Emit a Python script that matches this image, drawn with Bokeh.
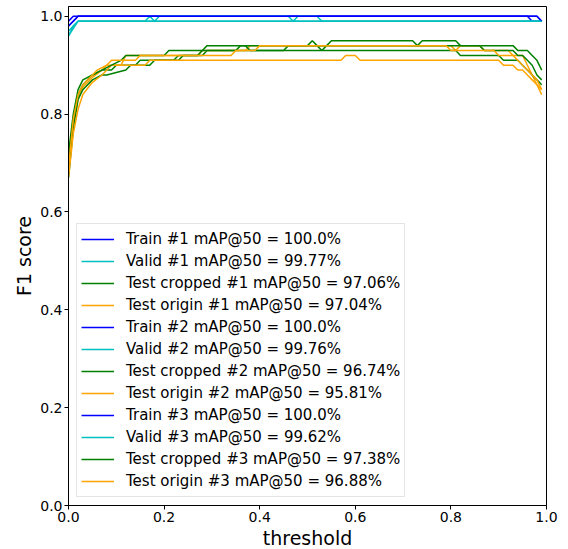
from bokeh.plotting import figure
from bokeh.models import Range1d, FixedTicker, PrintfTickFormatter
from bokeh.embed import file_html
from bokeh.resources import INLINE

# ---------------- data (vertices of each F1-vs-threshold curve) ----------------
train1_t = [0, 0.02, 0.96, 0.97, 0.99]
train1_f = [0.98, 1.0, 1.0, 0.99, 0.99]
valid1_t = [0, 0.02, 0.99]
valid1_f = [0.96, 0.99, 0.99]
crop1_t = [0, 0.01, 0.02, 0.03, 0.05, 0.07, 0.09, 0.10, 0.14, 0.15, 0.22, 0.23, 0.28, 0.29,
           0.45, 0.46, 0.50, 0.51, 0.52, 0.53, 0.54, 0.55, 0.72, 0.73, 0.74, 0.81, 0.82,
           0.93, 0.94, 0.96, 0.97, 0.98, 0.99]
crop1_f = [0.72, 0.80, 0.85, 0.87, 0.88, 0.89, 0.89, 0.90, 0.90, 0.91, 0.91, 0.92, 0.92, 0.93,
           0.93, 0.94, 0.94, 0.95, 0.94, 0.93, 0.94, 0.95, 0.95, 0.94, 0.95, 0.95, 0.94,
           0.94, 0.93, 0.93, 0.92, 0.91, 0.89]
orig1_t = [0, 0.01, 0.02, 0.03, 0.05, 0.07, 0.08, 0.11, 0.12, 0.27, 0.28, 0.37, 0.38, 0.80,
           0.81, 0.82, 0.86, 0.87, 0.92, 0.93, 0.95, 0.96, 0.97, 0.98, 0.99]
orig1_f = [0.68, 0.78, 0.83, 0.855, 0.875, 0.89, 0.90, 0.90, 0.92, 0.92, 0.93, 0.93, 0.94, 0.94,
           0.93, 0.94, 0.94, 0.93, 0.93, 0.92, 0.92, 0.90, 0.88, 0.86, 0.84]

train2_t = [0, 0.01, 0.98, 0.99]
train2_f = [0.99, 1.0, 1.0, 0.99]
valid2_t = [0, 0.01, 0.02, 0.16, 0.17, 0.18, 0.19, 0.46, 0.47, 0.48, 0.52, 0.53, 0.99]
valid2_f = [0.97, 0.98, 0.99, 0.99, 1.0, 0.99, 1.0, 1.0, 0.99, 1.0, 1.0, 0.99, 0.99]
crop2_t = [0, 0.01, 0.02, 0.03, 0.05, 0.07, 0.08, 0.12, 0.13, 0.17, 0.18, 0.23, 0.24, 0.27,
           0.28, 0.29, 0.37, 0.38, 0.81, 0.82, 0.90, 0.91, 0.94, 0.95, 0.96, 0.97, 0.98, 0.99]
crop2_f = [0.67, 0.77, 0.83, 0.85, 0.87, 0.88, 0.88, 0.89, 0.90, 0.90, 0.91, 0.91, 0.92, 0.92,
           0.93, 0.94, 0.94, 0.93, 0.93, 0.92, 0.92, 0.91, 0.91, 0.90, 0.89, 0.88, 0.87, 0.86]
orig2_t = [0, 0.01, 0.02, 0.03, 0.05, 0.07, 0.09, 0.16, 0.17, 0.57, 0.58, 0.60, 0.61, 0.90,
           0.91, 0.93, 0.94, 0.95, 0.96, 0.97, 0.98, 0.99]
orig2_f = [0.67, 0.76, 0.81, 0.84, 0.865, 0.88, 0.90, 0.90, 0.91, 0.91, 0.92, 0.92, 0.91, 0.91,
           0.90, 0.90, 0.89, 0.89, 0.88, 0.87, 0.86, 0.85]

train3_t = [0, 0.01, 0.02, 0.98, 0.99]
train3_f = [0.98, 0.99, 1.0, 1.0, 0.99]
valid3_t = [0, 0.01, 0.02, 0.99]
valid3_f = [0.96, 0.98, 0.99, 0.99]
crop3_t = [0, 0.01, 0.02, 0.03, 0.05, 0.07, 0.09, 0.11, 0.12, 0.20, 0.21, 0.35, 0.36, 0.86,
           0.87, 0.93, 0.94, 0.95, 0.96, 0.97, 0.98, 0.99]
crop3_f = [0.70, 0.79, 0.84, 0.86, 0.88, 0.89, 0.90, 0.91, 0.92, 0.92, 0.93, 0.93, 0.94, 0.94,
           0.93, 0.93, 0.92, 0.92, 0.91, 0.90, 0.88, 0.87]
orig3_t = [0, 0.01, 0.02, 0.03, 0.05, 0.06, 0.08, 0.09, 0.14, 0.15, 0.34, 0.35, 0.39, 0.40,
           0.79, 0.80, 0.89, 0.90, 0.93, 0.94, 0.95, 0.96, 0.97, 0.98, 0.99]
orig3_f = [0.69, 0.79, 0.84, 0.86, 0.88, 0.89, 0.90, 0.91, 0.91, 0.92, 0.92, 0.93, 0.93, 0.94,
           0.94, 0.93, 0.93, 0.92, 0.92, 0.91, 0.90, 0.89, 0.88, 0.87, 0.85]

labels = [
    "Train #1 mAP@50 = 100.0%", "Valid #1 mAP@50 = 99.77%",
    "Test cropped #1 mAP@50 = 97.06%", "Test origin #1 mAP@50 = 97.04%",
    "Train #2 mAP@50 = 100.0%", "Valid #2 mAP@50 = 99.76%",
    "Test cropped #2 mAP@50 = 96.74%", "Test origin #2 mAP@50 = 95.81%",
    "Train #3 mAP@50 = 100.0%", "Valid #3 mAP@50 = 99.62%",
    "Test cropped #3 mAP@50 = 97.38%", "Test origin #3 mAP@50 = 96.88%",
]
series = [
    (train1_t, train1_f), (valid1_t, valid1_f), (crop1_t, crop1_f), (orig1_t, orig1_f),
    (train2_t, train2_f), (valid2_t, valid2_f), (crop2_t, crop2_f), (orig2_t, orig2_f),
    (train3_t, train3_f), (valid3_t, valid3_f), (crop3_t, crop3_f), (orig3_t, orig3_f),
]
colors = ["#0000ff", "#00bfbf", "#008000", "#ffa500"] * 3

x_ticks = [0.0, 0.2, 0.4, 0.6, 0.8, 1.0]
y_ticks = [0.0, 0.2, 0.4, 0.6, 0.8, 1.0]

FONT = "DejaVu Sans"

p = figure(frame_width=478, frame_height=499, output_backend="svg", toolbar_location=None,
           x_range=Range1d(0, 1), y_range=Range1d(0, 1.02),
           min_border_left=68, min_border_right=20, min_border_top=6, min_border_bottom=10)

for (t, f), c, lab in zip(series, colors, labels):
    p.line(t, f, line_color=c, line_width=1.5, legend_label=lab)

p.xgrid.visible = False
p.ygrid.visible = False
p.outline_line_color = "black"
p.outline_line_width = 1
p.background_fill_color = "white"
p.border_fill_color = "white"

for ax, ticks in ((p.xaxis[0], x_ticks), (p.yaxis[0], y_ticks)):
    ax.ticker = FixedTicker(ticks=ticks)
    ax.formatter = PrintfTickFormatter(format="%.1f")
    ax.major_label_text_font = FONT
    ax.major_label_text_font_size = "14px"
    ax.major_label_text_color = "black"
    ax.axis_label_text_font = FONT
    ax.axis_label_text_font_size = "19px"
    ax.axis_label_text_font_style = "normal"
    ax.axis_label_text_color = "black"
    ax.major_tick_out = 4
    ax.major_tick_in = 0
    ax.minor_tick_out = 0
    ax.minor_tick_in = 0
    ax.axis_line_color = "black"
    ax.major_tick_line_color = "black"
    ax.major_label_standoff = 2
    ax.axis_label_standoff = 2

p.xaxis.axis_label = "threshold"
p.yaxis.axis_label = "F1 score"

lg = p.legend[0]
lg.location = (8, 8)
lg.margin = 0
lg.padding = 4
lg.spacing = 0
lg.label_height = 22
lg.glyph_height = 22
lg.glyph_width = 33
lg.label_standoff = 12
lg.label_text_font = FONT
lg.label_text_font_size = "15px"
lg.label_text_color = "black"
lg.border_line_color = "#cccccc"
lg.border_line_width = 1
lg.background_fill_color = "white"
lg.background_fill_alpha = 0.8

open("out.html", "w").write(file_html(p, INLINE))
